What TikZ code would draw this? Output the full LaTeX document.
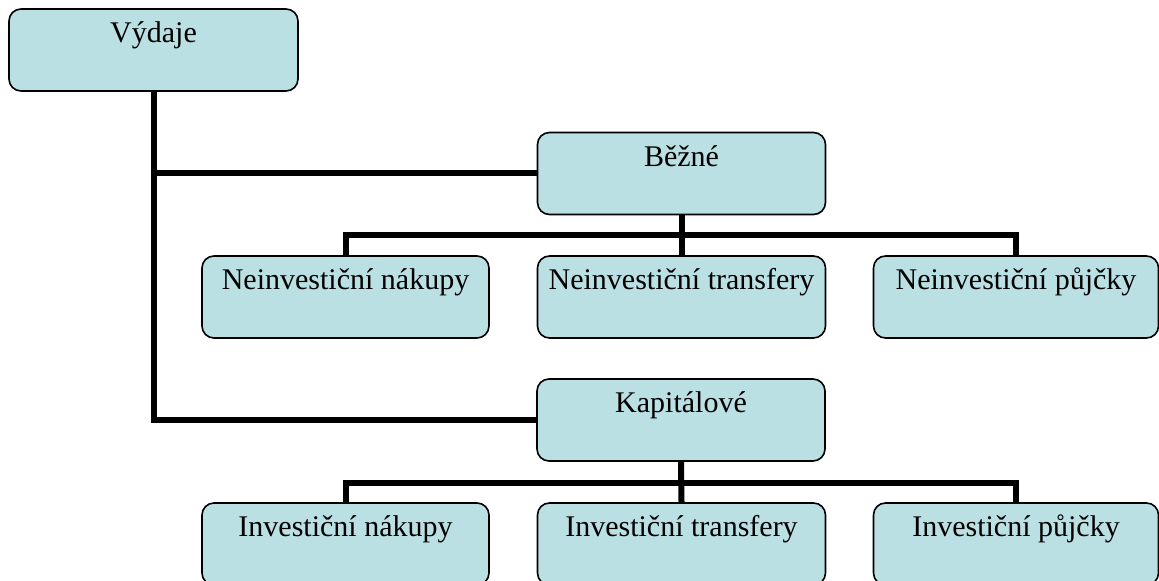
\documentclass[tikz,border=0pt]{standalone}
\usepackage{fontspec}
\setmainfont{Liberation Serif}
\definecolor{boxfill}{RGB}{186,224,227}
\begin{document}
\begin{tikzpicture}[x=0.5pt,y=-0.5pt,
  box/.style={draw=black,line width=0.8pt,fill=boxfill,rounded corners=6pt,
    inner sep=0pt,minimum width=144pt,text height=16.8pt,text depth=24.2pt,
    font=\fontsize{15}{17}\selectfont},
  conn/.style={line width=3pt,line join=miter}]
\useasboundingbox (0,0) rectangle (1159,581);
\clip (0,0) rectangle (1159,581);
\node[box,minimum width=144.5pt] (vy) at (153.5,50) {Výdaje};
\node[box] (bez) at (681.5,173.5) {Běžné};
\node[box,minimum width=143.5pt] (n1) at (345.5,297) {Neinvestiční nákupy};
\node[box] (n2) at (681.5,297) {Neinvestiční transfery};
\node[box,minimum width=142.5pt] (n3) at (1016,297) {Neinvestiční půjčky};
\node[box] (kap) at (681,420) {Kapitálové};
\node[box,minimum width=143.5pt] (i1) at (345.5,544) {Investiční nákupy};
\node[box] (i2) at (681.5,544) {Investiční transfery};
\node[box,minimum width=142.5pt] (i3) at (1016,544) {Investiční půjčky};
\coordinate (b1) at (681.5,235);
\coordinate (b2) at (681.5,483);
\draw[conn] (vy.south) |- (kap.west);
\draw[conn] (vy.south |- bez.west) -- (bez.west);
\draw[conn] (bez.south) -- (n2.north);
\draw[conn] (n1.north) |- (b1) -| (n3.north);
\draw[conn] (kap.south) -- (i2.north);
\draw[conn] (i1.north) |- (b2) -| (i3.north);
\end{tikzpicture}
\end{document}
